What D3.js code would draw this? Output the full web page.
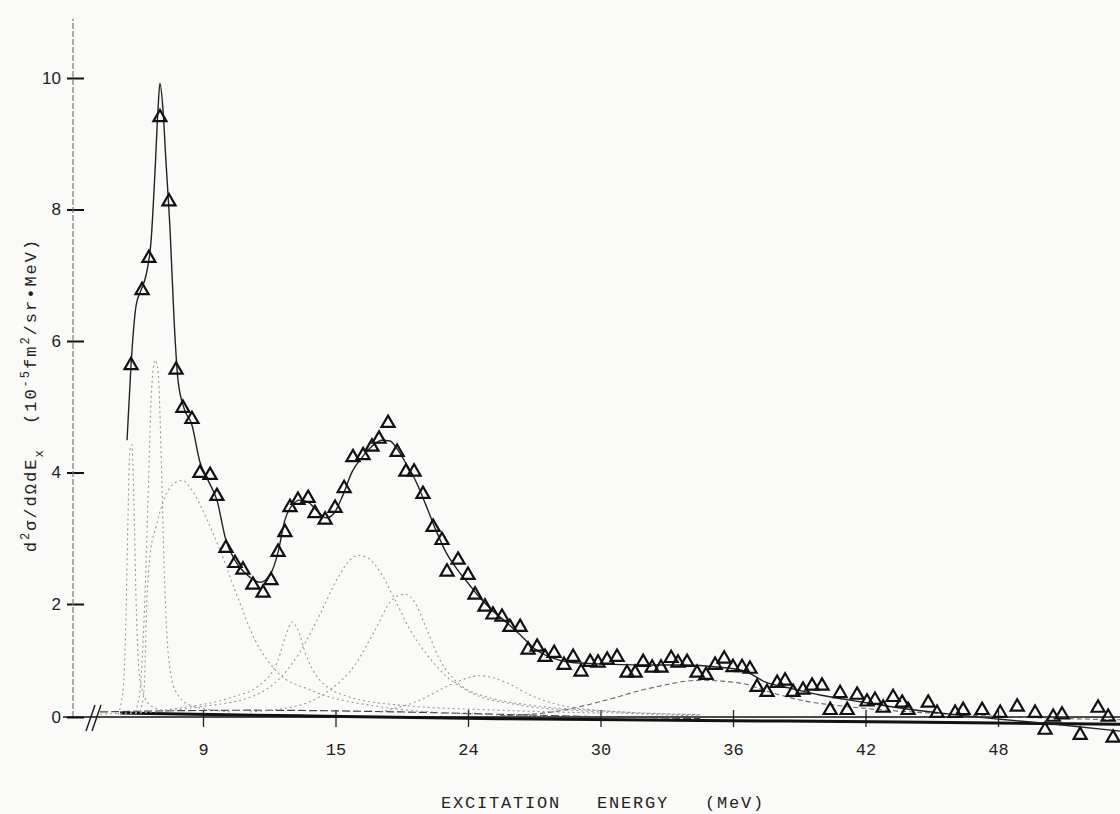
<!DOCTYPE html>
<html>
<head>
<meta charset="utf-8">
<script src="https://cdn.jsdelivr.net/npm/d3@7"></script>
<style>
  html, body { margin: 0; padding: 0; background: #fafaf8; }
  svg { display: block; }
</style>
</head>
<body>
<svg id="chart" width="1120" height="814"></svg>
<script>
// Axis ticks (positions in MeV as drawn; labels as printed on the figure)
const xTickValues = [12, 18, 24, 30, 36, 42, 48];
const xTickLabels = ["9", "15", "24", "30", "36", "42", "48"];
const yTickValues = [0, 2, 4, 6, 8, 10];
const yTickLabels = ["0", "2", "4", "6", "8", "10"];

// measured points [E, value]
const points = [
  [8.74, 5.63], [9.24, 6.77], [9.55, 7.26], [10.05, 9.40], [10.46, 8.12], [10.78, 5.56],
  [11.09, 4.98], [11.50, 4.81], [11.86, 3.99], [12.32, 3.96], [12.63, 3.64], [13.04, 2.85],
  [13.45, 2.62], [13.81, 2.52], [14.26, 2.29], [14.72, 2.17], [15.08, 2.36], [15.40, 2.79],
  [15.71, 3.09], [15.94, 3.47], [16.30, 3.58], [16.76, 3.61], [17.07, 3.38], [17.53, 3.28],
  [17.98, 3.46], [18.39, 3.76], [18.79, 4.23], [19.25, 4.26], [19.65, 4.39], [19.97, 4.51],
  [20.38, 4.75], [20.79, 4.31], [21.19, 4.01], [21.56, 4.01], [21.96, 3.67], [22.42, 3.17],
  [22.82, 2.97], [23.05, 2.49], [23.55, 2.67], [24.00, 2.44], [24.32, 2.14], [24.77, 1.95],
  [25.13, 1.81], [25.54, 1.77], [25.90, 1.59], [26.36, 1.59], [26.72, 1.19], [27.13, 1.24],
  [27.49, 1.06], [27.90, 1.13], [28.35, 0.92], [28.76, 1.06], [29.12, 0.80], [29.53, 0.97],
  [29.89, 0.96], [30.30, 1.01], [30.75, 1.06], [31.20, 0.78], [31.57, 0.78], [31.93, 0.97],
  [32.34, 0.87], [32.74, 0.87], [33.20, 1.04], [33.51, 0.96], [33.92, 0.97], [34.37, 0.78],
  [34.78, 0.74], [35.19, 0.92], [35.60, 1.03], [36.00, 0.88], [36.41, 0.88], [36.77, 0.85],
  [37.09, 0.53], [37.54, 0.44], [38.00, 0.60], [38.36, 0.64], [38.72, 0.44], [39.17, 0.48],
  [39.58, 0.55], [40.03, 0.55], [40.40, 0.12], [40.85, 0.42], [41.17, 0.12], [41.62, 0.39],
  [42.07, 0.27], [42.43, 0.30], [42.80, 0.16], [43.25, 0.35], [43.66, 0.25], [43.93, 0.12],
  [44.84, 0.25], [45.24, 0.07], [46.06, 0.07], [46.42, 0.12], [47.28, 0.12], [48.10, 0.07],
  [48.87, 0.18], [49.68, 0.07], [50.13, -0.23], [50.50, 0.00], [50.90, 0.04], [51.72, -0.32],
  [52.53, 0.16], [52.99, 0.00], [53.21, -0.37]
];

// total fit
const fitCurve = [
  [8.56, 4.49], [8.74, 5.63], [8.97, 6.54], [9.19, 6.77], [9.42, 7.00], [9.65, 7.53],
  [9.83, 8.60], [9.96, 9.51], [10.05, 9.92], [10.19, 9.51], [10.32, 8.75], [10.51, 7.68],
  [10.69, 6.32], [10.87, 5.40], [11.14, 4.98], [11.50, 4.72], [11.86, 4.16], [12.23, 3.88],
  [12.63, 3.58], [13.04, 2.97], [13.49, 2.64], [14.04, 2.43], [14.58, 2.33], [15.03, 2.44],
  [15.40, 2.79], [15.71, 3.28], [16.03, 3.50], [16.39, 3.58], [16.76, 3.55], [17.21, 3.40],
  [17.57, 3.31], [17.93, 3.38], [18.34, 3.66], [18.75, 4.01], [19.20, 4.23], [19.65, 4.40],
  [20.11, 4.49], [20.47, 4.48], [20.83, 4.34], [21.19, 4.14], [21.65, 3.86], [22.10, 3.50],
  [22.55, 3.12], [23.00, 2.79], [23.46, 2.55], [24.00, 2.32], [24.55, 2.09], [25.18, 1.86],
  [25.81, 1.65], [26.45, 1.42], [27.08, 1.19], [27.72, 1.06], [28.62, 0.97], [29.98, 0.94],
  [31.79, 0.92], [33.60, 0.92], [35.41, 0.88], [36.55, 0.81], [37.45, 0.62], [38.59, 0.51],
  [39.94, 0.39], [41.76, 0.27], [43.57, 0.16], [45.83, 0.05], [48.10, -0.04], [50.36, -0.12],
  [53.53, -0.25]
];

// fitted components
const comp1 = [[8.15, 0.04], [8.38, 0.48], [8.51, 1.72], [8.60, 3.28], [8.69, 4.34], [8.78, 4.42],
  [8.87, 3.58], [8.97, 2.06], [9.15, 0.65], [9.60, 0.21], [10.51, 0.09]];
const comp2 = [[8.92, 0.09], [9.15, 0.48], [9.33, 1.72], [9.51, 3.58], [9.65, 5.10], [9.83, 5.71],
  [9.96, 5.56], [10.10, 4.34], [10.23, 2.67], [10.41, 1.19], [10.73, 0.48], [11.41, 0.21], [13.22, 0.09]];
const comp3 = [[9.15, 0.09], [9.33, 0.48], [9.46, 2.06], [9.60, 2.74], [9.87, 3.17], [10.28, 3.63],
  [10.64, 3.82], [11.05, 3.88], [11.50, 3.73], [12.09, 3.35], [12.77, 2.82], [13.45, 2.21],
  [14.36, 1.36], [15.35, 0.80], [16.85, 0.48], [20.02, 0.18], [23.19, 0.07], [27.72, 0.02]];
const comp4 = [[7.34, 0.05], [10.96, 0.16], [13.22, 0.34], [14.58, 0.57], [15.40, 1.01], [15.76, 1.45],
  [16.03, 1.68], [16.30, 1.54], [16.66, 1.10], [17.30, 0.65], [18.66, 0.35], [20.92, 0.21],
  [25.45, 0.12], [29.98, 0.07]];
const comp5 = [[8.24, 0.05], [11.86, 0.18], [14.13, 0.35], [15.49, 0.69], [16.39, 1.15], [17.30, 1.82],
  [18.11, 2.40], [18.66, 2.67], [19.02, 2.74], [19.47, 2.70], [20.02, 2.49], [20.70, 2.06],
  [21.38, 1.54], [22.05, 1.15], [22.96, 0.74], [24.09, 0.44], [26.36, 0.21], [29.98, 0.09], [34.51, 0.02]];
const comp6 = [[14.13, 0.09], [16.39, 0.21], [17.75, 0.48], [18.88, 0.92], [19.79, 1.54], [20.56, 2.06],
  [21.15, 2.15], [21.60, 2.02], [22.05, 1.63], [22.73, 1.01], [23.64, 0.57], [25.00, 0.34],
  [26.81, 0.21], [29.98, 0.11], [34.51, 0.04]];
const comp7 = [[20.02, 0.09], [21.83, 0.30], [23.19, 0.57], [24.55, 0.73], [25.68, 0.62], [26.81, 0.39],
  [28.17, 0.21], [30.89, 0.09], [34.51, 0.04]];
const comp8 = [[25.45, 0.02], [28.17, 0.11], [29.98, 0.27], [32.24, 0.51], [34.51, 0.65], [36.32, 0.60],
  [37.68, 0.44], [39.04, 0.30], [41.30, 0.18], [45.83, 0.05], [50.36, -0.02], [53.53, -0.05]];

// backgrounds near zero
const background1 = [[8.24, 0.07], [16.39, 0.02], [25.45, -0.03], [34.51, -0.06], [43.57, -0.09], [53.53, -0.13]];
const background2 = [[7.34, 0.09], [14.13, 0.12], [20.92, 0.09], [28.17, 0.02], [34.51, -0.03]];

const svg = d3.select("#chart");

const x = d3.scaleLinear().domain([12, 48]).range([203, 998]);
const y = d3.scaleLinear().domain([0, 2, 10]).range([717, 604, 78]);

const line = d3.line()
  .x(d => x(d[0]))
  .y(d => y(d[1]))
  .curve(d3.curveMonotoneX);

// y axis
const yAxis = d3.axisLeft(y)
  .tickValues(yTickValues)
  .tickFormat((d, i) => yTickLabels[i])
  .tickSizeOuter(0);
const yg = svg.append("g").attr("transform", `translate(${x(12) - 130},0)`).call(yAxis);
yg.select(".domain").remove();
yg.selectAll(".tick line").attr("x1", -6).attr("x2", 11).attr("stroke", "#111").attr("stroke-width", 2);
yg.selectAll(".tick text")
  .attr("x", -12)
  .style("font-family", "'Liberation Sans', Arial, sans-serif")
  .style("font-size", "17px")
  .attr("fill", "#222");
yg.append("line")
  .attr("y1", y(0)).attr("y2", y(10.9))
  .attr("stroke", "#777").attr("stroke-width", 1.2)
  .attr("stroke-dasharray", "6,2");

// x axis
const xAxis = d3.axisBottom(x)
  .tickValues(xTickValues)
  .tickFormat((d, i) => xTickLabels[i])
  .tickSizeOuter(0);
const xg = svg.append("g").attr("transform", `translate(0,${y(0)})`).call(xAxis);
xg.select(".domain").remove();
xg.append("line")
  .attr("x1", 63).attr("x2", 1120)
  .attr("stroke", "#111").attr("stroke-width", 1.6);
xg.selectAll(".tick line").attr("y1", -7).attr("y2", 10).attr("stroke", "#222").attr("stroke-width", 1.3);
xg.selectAll(".tick text")
  .attr("y", 26)
  .style("font-family", "'Liberation Mono', 'Courier New', monospace")
  .style("font-size", "17px")
  .attr("fill", "#222");

// axis break
xg.append("path").attr("d", "M86,14 L95,-12").attr("stroke", "#222").attr("stroke-width", 1.5).attr("fill", "none");
xg.append("path").attr("d", "M92,14 L101,-12").attr("stroke", "#222").attr("stroke-width", 1.5).attr("fill", "none");

// background lines
svg.append("path").datum(background1).attr("d", line)
  .attr("fill", "none").attr("stroke", "#111").attr("stroke-width", 3);
svg.append("path").datum(background2).attr("d", line)
  .attr("fill", "none").attr("stroke", "#444").attr("stroke-width", 1.2).attr("stroke-dasharray", "8,3");

// components
const comps = [comp1, comp2, comp3, comp4, comp5, comp6, comp7, comp8];
svg.append("g").selectAll("path")
  .data(comps)
  .join("path")
  .attr("d", line)
  .attr("fill", "none")
  .attr("stroke", (d, i) => i === 7 ? "#666" : "#999")
  .attr("stroke-width", 1.1)
  .attr("stroke-dasharray", (d, i) => i === 7 ? "5,3" : "2,3");

// fit
svg.append("path").datum(fitCurve).attr("d", line)
  .attr("fill", "none").attr("stroke", "#222").attr("stroke-width", 1.4);

// data points
const tri = d3.symbol().type(d3.symbolTriangle).size(74);
svg.append("g").selectAll("path")
  .data(points)
  .join("path")
  .attr("transform", d => `translate(${x(d[0])},${y(d[1])})`)
  .attr("d", tri)
  .attr("fill", "none")
  .attr("stroke", "#111")
  .attr("stroke-width", 2.2);

// axis titles
svg.append("text")
  .attr("x", 603).attr("y", 808)
  .attr("text-anchor", "middle")
  .style("font-family", "'Liberation Mono', 'Courier New', monospace")
  .style("font-size", "17px")
  .style("letter-spacing", "1.8px")
  .attr("fill", "#222")
  .text("EXCITATION\u00a0\u00a0 ENERGY\u00a0\u00a0 (MeV)");

const yl = svg.append("text")
  .attr("transform", "translate(36,395) rotate(-90)")
  .attr("text-anchor", "middle")
  .style("font-family", "'Liberation Mono', 'Courier New', monospace")
  .style("font-size", "17px")
  .style("letter-spacing", "2px")
  .attr("fill", "#222");
const parts = [
  ["d", 0], ["2", -1], ["\u03c3/d\u03a9dE", 0], ["x", 1], ["\u00a0 (10", 0], ["-5", -1],
  ["fm", 0], ["2", -1], ["/sr\u2022MeV)", 0]
];
let shift = 0;
parts.forEach(([t, s]) => {
  const target = s * 7;
  yl.append("tspan")
    .attr("dy", target - shift)
    .style("font-size", s === 0 ? "17px" : "12px")
    .text(t);
  shift = target;
});
</script>
</body>
</html>
